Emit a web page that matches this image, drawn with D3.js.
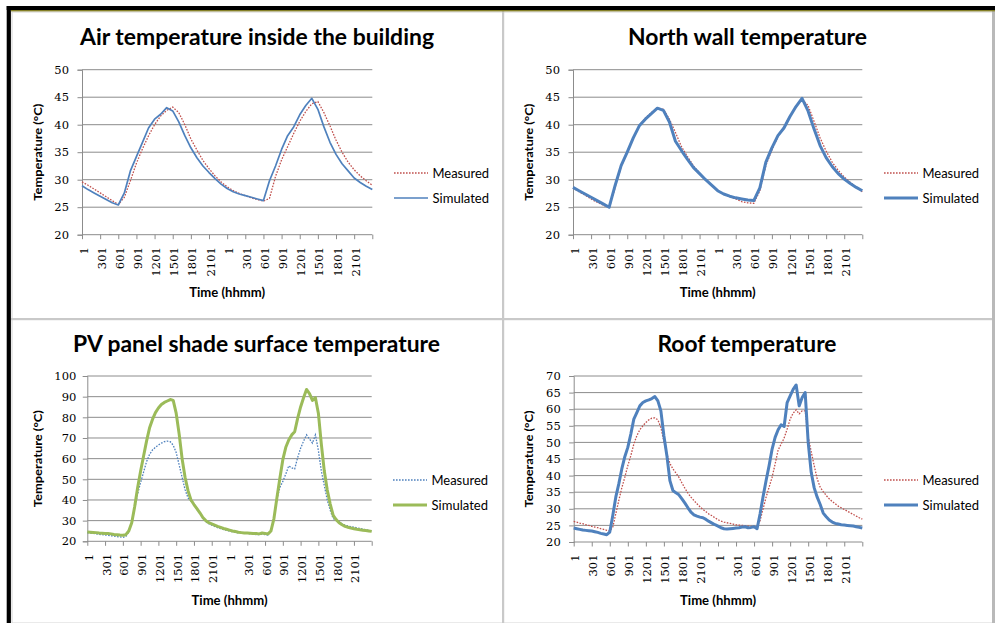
<!DOCTYPE html>
<html><head><meta charset="utf-8">
<script src="https://cdn.jsdelivr.net/npm/d3@7"></script>
<style>body{margin:0;background:#fff}svg{display:block}</style>
</head><body>
<svg id="c" width="995" height="623"></svg>
<script>
// ---------- DATA ----------
const xTickLabels = ["1","301","601","901","1201","1501","1801","2101","1","301","601","901","1201","1501","1801","2101"];
const xTickHours = d3.range(0, 48.01, 3);           // one tick every 3 h, last tick (48 h) unlabeled
const hourlyTimes = d3.range(0, 48.01, 1);          // hours since start (panels 1-2)
const halfHourTimes = d3.range(0, 48.01, 0.5);      // hours since start (panels 3-4)
const seriesNames = ["Measured", "Simulated"];
const chartTitles = ["Air temperature inside the building", "North wall temperature",
                     "PV panel shade surface temperature", "Roof temperature"];
const yTicks50 = [20, 25, 30, 35, 40, 45, 50];
const yTicks100 = [20, 30, 40, 50, 60, 70, 80, 90, 100];
const yTicks70 = [20, 25, 30, 35, 40, 45, 50, 55, 60, 65, 70];

const airMeasured = [29.6,29.0,28.3,27.6,26.9,26.2,25.5,26.8,29.8,33.0,35.6,38.0,40.0,41.6,42.6,43.2,42.2,40.0,37.4,35.4,33.5,32.0,30.7,29.6,28.7,28.0,27.5,27.1,26.7,26.4,26.1,26.6,30.6,33.6,36.0,38.4,40.6,42.4,43.8,44.2,42.2,39.8,37.2,35.0,33.2,31.8,30.7,29.8,29.0];
const airSimulated = [28.9,28.2,27.6,27.0,26.4,25.8,25.4,27.6,31.6,34.2,36.8,39.4,41.0,41.9,43.1,42.5,40.5,38.0,35.8,34.0,32.5,31.3,30.2,29.2,28.4,27.8,27.4,27.1,26.8,26.5,26.2,29.8,32.5,35.5,38.0,39.6,41.8,43.5,44.8,42.8,39.6,36.8,34.6,32.9,31.6,30.3,29.5,28.8,28.2];

const wallMeasured = [28.5,27.8,27.2,26.5,25.9,25.4,24.9,28.6,32.4,35.0,37.6,39.9,41.2,42.2,43.0,42.8,41.0,38.6,36.0,34.2,32.5,31.2,30.0,29.0,28.1,27.4,26.9,26.5,26.0,25.8,25.7,28.0,32.6,35.4,37.8,39.6,41.6,43.4,44.6,43.5,40.6,37.6,35.2,33.2,31.7,30.5,29.5,28.6,27.8];
const wallSimulated = [28.6,28.0,27.4,26.8,26.2,25.6,25.0,29.0,32.6,35.0,37.6,39.8,41.0,42.0,43.0,42.6,40.5,37.0,35.3,33.7,32.2,31.1,30.0,29.0,28.0,27.4,27.0,26.7,26.5,26.3,26.2,28.5,33.2,35.8,38.0,39.4,41.5,43.3,44.8,42.5,39.2,36.2,34.0,32.4,31.1,30.1,29.3,28.6,28.0];

const pvMeasured = [24.2,24.0,23.8,23.6,23.4,23.2,23.0,22.9,22.7,22.5,22.3,22.1,21.9,22.4,24.5,29.0,36.0,43.0,48.5,53.5,58.5,62.0,64.2,65.5,66.6,67.5,68.2,68.5,68.2,66.5,63.0,57.0,51.0,45.0,41.0,39.5,38.2,35.5,33.5,31.5,29.5,28.5,27.8,27.2,26.6,26.1,25.7,25.3,24.9,24.6,24.3,24.1,24.0,23.9,23.8,23.6,23.5,23.2,23.3,23.5,23.2,23.0,25.0,31.0,40.5,46.0,49.0,52.5,56.5,55.5,55.0,60.5,65.0,68.5,71.5,69.5,67.5,71.5,64.0,54.0,47.0,40.0,35.0,31.0,30.3,29.5,28.5,27.8,27.4,27.1,26.8,26.5,26.2,25.9,25.6,25.3,25.0];
const pvSimulated = [24.5,24.4,24.3,24.2,24.0,23.9,23.8,23.8,23.6,23.3,23.2,23.0,22.9,23.2,25.0,29.0,36.8,46.0,54.0,61.3,68.5,74.8,79.0,82.3,84.5,86.2,87.2,87.9,88.6,88.2,82.0,72.0,60.0,51.0,44.5,40.0,37.8,35.8,33.8,31.5,30.0,29.0,28.4,27.8,27.2,26.7,26.2,25.8,25.4,25.0,24.7,24.4,24.2,24.0,24.0,23.9,23.8,23.8,23.6,24.0,23.8,23.6,25.0,31.0,41.0,50.5,59.5,65.5,69.0,71.5,73.0,79.5,85.0,89.5,93.5,91.5,88.2,89.5,82.0,67.0,54.0,44.8,38.0,32.5,30.5,29.0,28.0,27.2,26.8,26.4,26.1,25.8,25.6,25.4,25.2,25.0,24.8];

const roofMeasured = [26.2,26.0,25.7,25.5,25.2,25.0,24.7,24.5,24.3,24.0,23.8,23.5,23.3,24.5,28.5,32.5,36.3,39.5,43.0,46.0,49.5,52.0,53.8,55.0,56.0,56.8,57.3,57.4,56.8,54.5,50.3,46.5,43.7,42.0,40.8,39.5,37.8,36.2,34.7,33.5,32.5,31.5,30.6,29.8,29.1,28.4,27.9,27.3,26.7,26.3,26.0,25.8,25.6,25.4,25.2,25.1,25.0,24.9,24.8,24.7,24.7,24.8,26.5,30.0,33.5,36.5,39.5,43.5,47.7,49.5,51.3,54.0,57.0,58.8,59.8,58.6,59.5,59.5,51.7,47.2,43.0,39.0,36.5,35.2,34.0,33.0,32.2,31.5,30.8,30.3,29.8,29.3,28.8,28.3,27.8,27.3,26.9];
const roofSimulated = [24.2,24.0,23.8,23.6,23.5,23.4,23.3,23.1,22.9,22.6,22.4,22.2,23.0,28.0,33.5,37.5,42.0,45.7,48.5,52.5,57.0,59.0,61.0,62.0,62.5,62.8,63.2,63.8,62.5,59.5,52.0,46.0,38.5,35.5,34.8,34.2,33.0,31.7,30.3,29.0,28.2,27.8,27.5,27.3,26.8,26.2,25.7,25.2,24.8,24.3,24.0,23.9,24.0,24.1,24.2,24.3,24.5,24.6,24.3,24.4,24.6,24.0,28.5,33.7,38.5,43.0,48.0,51.5,53.8,55.3,54.8,62.0,64.0,66.0,67.3,61.0,63.5,65.0,50.0,41.0,36.3,33.5,31.3,28.7,27.6,26.6,26.0,25.6,25.4,25.2,25.1,25.0,24.9,24.8,24.6,24.4,24.2];

// ---------- COLOURS / STYLES ----------
const RED = "#C0504D", BLUE = "#4F81BD", GREEN = "#9BBB59", GRID = "#8C8C8C";
const tickFont = "'DejaVu Serif', 'Liberation Serif', serif";
const sansFont = "Lato, 'Open Sans', 'Liberation Sans', sans-serif";

const panels = [
  { title: chartTitles[0], titleX: 257, titleY: 45, titleW: 354,
    box: { x0: 82, x1: 372.3, y0: 69.7, y1: 234.7 }, domain: [20, 50], yTicks: yTicks50,
    times: hourlyTimes, measured: airMeasured, simulated: airSimulated,
    mColor: RED, sColor: BLUE, sWidth: 1.7, yLabGap: 13, yTitleX: 38, legendX: 394, legendY: 173, xTitleY: 297 },
  { title: chartTitles[1], titleX: 747.5, titleY: 45, titleW: 239,
    box: { x0: 573, x1: 862.3, y0: 69.7, y1: 234.7 }, domain: [20, 50], yTicks: yTicks50,
    times: hourlyTimes, measured: wallMeasured, simulated: wallSimulated,
    mColor: RED, sColor: BLUE, sWidth: 3, yLabGap: 13, yTitleX: 528.5, legendX: 884, legendY: 173, xTitleY: 297 },
  { title: chartTitles[2], titleX: 256.5, titleY: 351.5, titleW: 367,
    box: { x0: 87.3, x1: 371.7, y0: 376, y1: 541.3 }, domain: [20, 100], yTicks: yTicks100,
    times: halfHourTimes, measured: pvMeasured, simulated: pvSimulated,
    mColor: BLUE, sColor: GREEN, sWidth: 3, yLabGap: 11, yTitleX: 38, legendX: 393, legendY: 480, xTitleY: 605 },
  { title: chartTitles[3], titleX: 747, titleY: 351.5, titleW: 179,
    box: { x0: 573.7, x1: 862.3, y0: 376, y1: 542 }, domain: [20, 70], yTicks: yTicks70,
    times: halfHourTimes, measured: roofMeasured, simulated: roofSimulated,
    mColor: RED, sColor: BLUE, sWidth: 3, yLabGap: 13, yTitleX: 528.5, legendX: 884, legendY: 480, xTitleY: 605 }
];

const svg = d3.select("#c");

// ---------- FRAME ----------
svg.append("rect").attr("x", 0).attr("y", 0).attr("width", 995).attr("height", 623).attr("fill", "#fff");
svg.append("rect").attr("x", 12).attr("y", 12).attr("width", 981).attr("height", 611).attr("fill", "none")
  .attr("stroke", "#d4d4d4").attr("stroke-width", 1);
svg.append("rect").attr("x", 502).attr("y", 11).attr("width", 2.2).attr("height", 612).attr("fill", "#c9c9c9");
svg.append("rect").attr("x", 11).attr("y", 318).attr("width", 982).attr("height", 2.2).attr("fill", "#c9c9c9");
svg.append("rect").attr("x", 992).attr("y", 11).attr("width", 3).attr("height", 612).attr("fill", "#b9b9b9");
svg.append("rect").attr("x", 6.7).attr("y", 6).attr("width", 4.2).attr("height", 617).attr("fill", "#000");
svg.append("rect").attr("x", 6.7).attr("y", 6).attr("width", 988.3).attr("height", 4).attr("fill", "#000");
svg.append("rect").attr("x", 10.9).attr("y", 10).attr("width", 984.1).attr("height", 1.4).attr("fill", "#847f26");

// ---------- PANELS ----------
panels.forEach(p => {
  const g = svg.append("g");
  const b = p.box;
  const x = d3.scaleLinear().domain([0, 48]).range([b.x0, b.x1]);
  const y = d3.scaleLinear().domain(p.domain).range([b.y1, b.y0]);

  // title
  g.append("text").attr("x", p.titleX).attr("y", p.titleY).attr("text-anchor", "middle")
    .attr("font-family", sansFont).attr("font-weight", "bold").attr("font-size", 22)
    .attr("textLength", p.titleW).attr("lengthAdjust", "spacingAndGlyphs").attr("fill", "#000")
    .text(p.title);

  // gridlines
  g.append("g").selectAll("line").data(p.yTicks.slice(1)).join("line")
    .attr("x1", b.x0).attr("x2", b.x1).attr("y1", d => y(d)).attr("y2", d => y(d))
    .attr("stroke", GRID).attr("stroke-width", 1);

  // y axis
  const yAxis = d3.axisLeft(y).tickValues(p.yTicks).tickSize(4.5).tickPadding(p.yLabGap - 4.5).tickFormat(d3.format("d"));
  const ya = g.append("g").attr("transform", `translate(${b.x0},0)`).call(yAxis);
  ya.select(".domain").attr("stroke", GRID);
  ya.selectAll(".tick line").attr("stroke", GRID);
  ya.selectAll(".tick text").attr("font-family", tickFont).attr("font-size", 11.5).attr("fill", "#000");

  // x axis
  const xAxis = d3.axisBottom(x).tickValues(xTickHours).tickSize(4.5).tickFormat(() => "");
  const xa = g.append("g").attr("transform", `translate(0,${b.y1})`).call(xAxis);
  xa.select(".domain").attr("stroke", GRID).attr("d", `M${b.x0},0H${b.x1}`);
  xa.selectAll(".tick line").attr("stroke", GRID);
  g.append("g").selectAll("text").data(xTickLabels).join("text")
    .attr("transform", (d, i) => `translate(${x(xTickHours[i]) + 1.5},${b.y1 + 12.5}) rotate(-90)`)
    .attr("text-anchor", "end").attr("dy", "0.35em")
    .attr("font-family", tickFont).attr("font-size", 11.5).attr("fill", "#000")
    .text(d => d);

  // axis titles
  g.append("text").attr("x", (b.x0 + b.x1) / 2).attr("y", p.xTitleY).attr("text-anchor", "middle")
    .attr("font-family", sansFont).attr("font-weight", "bold").attr("font-size", 12.5)
    .attr("textLength", 76).attr("lengthAdjust", "spacingAndGlyphs").text("Time (hhmm)");
  g.append("text").attr("transform", `translate(${p.yTitleX},${(b.y0 + b.y1) / 2}) rotate(-90)`)
    .attr("text-anchor", "middle").attr("dy", "0.35em")
    .attr("font-family", sansFont).attr("font-weight", "bold").attr("font-size", 12)
    .attr("textLength", 97).attr("lengthAdjust", "spacingAndGlyphs").text("Temperature (°C)");

  // series
  const line = d3.line().x((d, i) => x(p.times[i])).y(d => y(d));
  g.append("path").datum(p.measured).attr("d", line).attr("fill", "none")
    .attr("stroke", p.mColor).attr("stroke-width", 1.3).attr("stroke-dasharray", "1.6,1.4");
  g.append("path").datum(p.simulated).attr("d", line).attr("fill", "none")
    .attr("stroke", p.sColor).attr("stroke-width", p.sWidth).attr("stroke-linejoin", "round");

  // legend
  const lg = g.append("g");
  seriesNames.forEach((name, i) => {
    const ly = p.legendY + i * 25;
    lg.append("line").attr("x1", p.legendX).attr("x2", p.legendX + 34).attr("y1", ly).attr("y2", ly)
      .attr("stroke", i === 0 ? p.mColor : p.sColor)
      .attr("stroke-width", i === 0 ? 1.3 : p.sWidth)
      .attr("stroke-dasharray", i === 0 ? "1.6,1.4" : null);
    lg.append("text").attr("x", p.legendX + 38.5).attr("y", ly).attr("dy", "0.35em")
      .attr("font-family", sansFont).attr("font-size", 13.5).attr("fill", "#000")
      .attr("textLength", 56.5).attr("lengthAdjust", "spacingAndGlyphs").text(name);
  });
});
</script>
</body></html>
